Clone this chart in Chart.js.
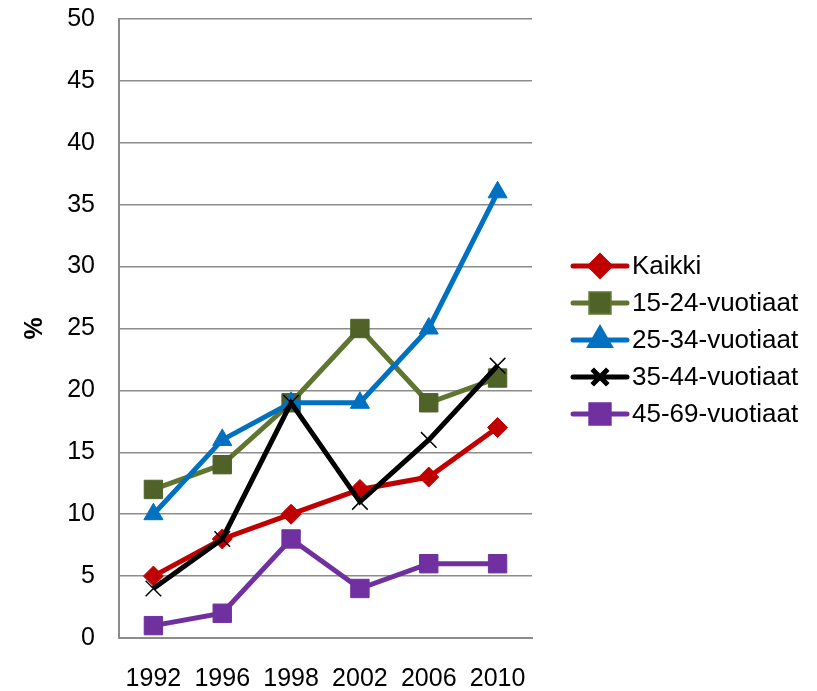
<!DOCTYPE html>
<html>
<head>
<meta charset="utf-8">
<script src="https://cdn.jsdelivr.net/npm/chart.js@4"></script>
<style>
  html, body { margin: 0; padding: 0; background: #fff; }
  #wrap { width: 817px; height: 691px; }
</style>
</head>
<body>
<div id="wrap"><canvas id="myChart" width="817" height="691"></canvas></div>
<script>
// data
const years = ['1992', '1996', '1998', '2002', '2006', '2010']
const seriesNames = ['Kaikki', '15-24-vuotiaat', '25-34-vuotiaat', '35-44-vuotiaat', '45-69-vuotiaat']
const kaikki = [5, 8, 10, 12, 13, 17]
const age15to24 = [12, 14, 19, 25, 19, 21]
const age25to34 = [10, 16, 19, 19, 25, 36]
const age35to44 = [4, 8, 19, 11, 16, 22]
const age45to69 = [1, 2, 8, 4, 6, 6]
const yTicks = [0, 5, 10, 15, 20, 25, 30, 35, 40, 45, 50]

const font = 'Liberation Sans, Arial, sans-serif'
const fsize = 25

function mk(label, data, line, fill, style, radius, order) {
    return {
        label: label,
        data: data,
        borderColor: line,
        backgroundColor: fill,
        pointBackgroundColor: fill,
        pointBorderColor: style === 'crossRot' ? line : fill,
        pointBorderWidth: style === 'crossRot' ? 1.5 : 1,
        pointStyle: style,
        pointRadius: radius,
        pointHoverRadius: radius,
        borderWidth: 5,
        tension: 0,
        order: order
    }
}

// legend drawn like the office one: a short line with the marker in the middle
const lineLegend = {
    id: 'lineLegend',
    afterDraw(chart) {
        const ctx = chart.ctx
        const x0 = 573, x1 = 627, y0 = 266, step = 37
        ctx.save()
        chart.data.datasets.forEach((ds, i) => {
            const y = y0 + i * step
            ctx.strokeStyle = ds.borderColor
            ctx.lineWidth = 5
            ctx.lineCap = 'round'
            ctx.beginPath()
            ctx.moveTo(x0, y)
            ctx.lineTo(x1, y)
            ctx.stroke()
            ctx.lineCap = 'butt'
            Chart.helpers.drawPoint(ctx, {
                pointStyle: ds.pointStyle,
                radius: ds.pointRadius,
                borderWidth: ds.pointBorderWidth,
                rotation: 0
            }, (x0 + x1) / 2, y)
            ctx.fillStyle = ds.pointBackgroundColor
            ctx.strokeStyle = ds.pointBorderColor
            ctx.lineWidth = ds.pointBorderWidth
            ctx.fill()
            ctx.stroke()
            ctx.fillStyle = '#000'
            ctx.font = '26px ' + font
            ctx.textBaseline = 'middle'
            ctx.textAlign = 'left'
            ctx.fillText(ds.label, x1 + 5, y + 1)
        })
        ctx.restore()
    }
}

var ctx = document.getElementById('myChart')

var myChart = new Chart(ctx, {
    type: 'line',
    data: {
        labels: years,
        datasets: [
            mk(seriesNames[0], kaikki, '#C00000', '#C00000', 'rectRot', 10, 5),
            mk(seriesNames[1], age15to24, '#5F7530', '#4F6228', 'rect', 13, 4),
            mk(seriesNames[2], age25to34, '#0070C0', '#0070C0', 'triangle', 11, 3),
            mk(seriesNames[3], age35to44, '#000000', '#000000', 'crossRot', 11, 2),
            mk(seriesNames[4], age45to69, '#7030A0', '#7030A0', 'rect', 13, 1)
        ]
    },
    options: {
        responsive: false,
        animation: false,
        layout: { padding: { top: 19, right: 285, left: 0, bottom: 0 } },
        plugins: {
            legend: { display: false },
            tooltip: { enabled: false }
        },
        scales: {
            x: {
                offset: true,
                grid: { display: false, drawTicks: false },
                border: { color: '#8c8c8c', width: 2 },
                ticks: { color: '#000', font: { size: fsize, family: font }, padding: 26, maxRotation: 0 },
                afterFit(scale) { scale.height = 53; scale.paddingLeft = 0; scale.paddingRight = 0 }
            },
            y: {
                min: 0,
                max: 50,
                afterBuildTicks(scale) { scale.ticks = yTicks.map(v => ({ value: v })) },
                grid: { color: '#8c8c8c', lineWidth: 1.5, drawTicks: false },
                border: { color: '#8c8c8c', width: 2 },
                ticks: { color: '#000', font: { size: fsize, family: font }, padding: 24 },
                title: { display: true, text: '%', color: '#000', font: { size: fsize, weight: 'bold', family: font }, padding: { top: 20, bottom: 0 } },
                afterFit(scale) { scale.width = 119; scale.paddingTop = 0; scale.paddingBottom = 0 }
            }
        }
    },
    plugins: [lineLegend]
})
</script>
</body>
</html>
